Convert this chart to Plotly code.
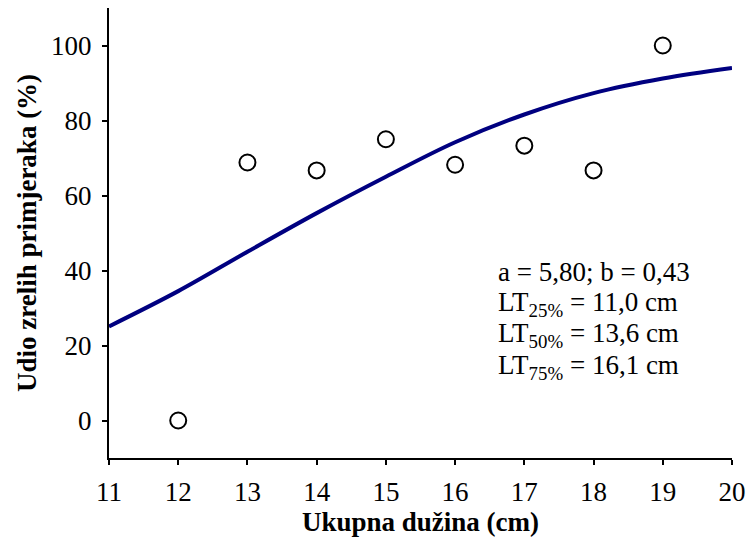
import plotly.graph_objects as go

# Observed data
length_cm = [12, 13, 14, 15, 16, 17, 18, 19]
mature_pct = [0, 68.8, 66.7, 75.0, 68.2, 73.3, 66.7, 100]

# Fitted logistic curve
curve_x = [11, 12, 13, 14, 15, 16, 17, 18, 19, 20]
curve_y = [25.1, 34.5, 45.0, 55.3, 65.0, 74.2, 81.6, 87.3, 91.2, 94.0]

x_ticks = [11, 12, 13, 14, 15, 16, 17, 18, 19, 20]
y_ticks = [0, 20, 40, 60, 80, 100]

annotation_lines = [
    "a = 5,80; b = 0,43",
    "LT<sub>25%</sub> = 11,0 cm",
    "LT<sub>50%</sub> = 13,6 cm",
    "LT<sub>75%</sub> = 16,1 cm",
]

FONT = "Liberation Serif, Times New Roman, serif"
FS = 27

fig = go.Figure()
fig.add_trace(go.Scatter(
    x=curve_x, y=curve_y, mode="lines",
    line=dict(color="#000080", width=4, shape="spline", smoothing=1.0),
    showlegend=False, hoverinfo="skip",
))
fig.add_trace(go.Scatter(
    x=length_cm, y=mature_pct, mode="markers",
    marker=dict(symbol="circle-open", size=16, color="black", line=dict(width=2, color="black")),
    showlegend=False,
))

for i, t in enumerate(annotation_lines):
    fig.add_annotation(
        x=0.621, xref="paper", y=0.413 - i * 0.07, yref="paper",
        text=t, showarrow=False, xanchor="left", yanchor="middle",
        font=dict(family=FONT, size=FS, color="black"), align="left",
    )

fig.update_layout(
    width=748, height=550,
    margin=dict(l=109, r=16, t=8, b=92, pad=0, autoexpand=False),
    paper_bgcolor="white", plot_bgcolor="white",
    font=dict(family=FONT, size=FS, color="black"),
    xaxis=dict(
        range=[11, 20], tickvals=x_ticks, ticktext=[str(v) for v in x_ticks],
        automargin=False,
        showgrid=False, zeroline=False, showline=True, linecolor="black", linewidth=2,
        ticks="outside", ticklen=5, tickwidth=1.5, tickcolor="black",
        tickfont=dict(family=FONT, size=FS, color="black"),
        ticklabelstandoff=4,
        title=dict(text="<b>Ukupna dužina (cm)</b>", font=dict(family=FONT, size=FS), standoff=6),
    ),
    yaxis=dict(
        range=[-10, 110], tickvals=y_ticks, ticktext=[str(v) for v in y_ticks],
        automargin=False,
        showgrid=False, zeroline=False, showline=True, linecolor="black", linewidth=2,
        ticks="outside", ticklen=5, tickwidth=1.5, tickcolor="black",
        tickfont=dict(family=FONT, size=FS, color="black"),
        ticklabelstandoff=5,
        title=dict(text="<b>Udio zrelih primjeraka (%)</b>", font=dict(family=FONT, size=FS), standoff=7),
    ),
)

# remove the browser's default 8px body margin so the figure fills the 748x550 window
fig.write_html(
    "out.html",
    config={"displayModeBar": False},
    post_script="document.body.style.margin='0';document.body.style.overflow='hidden';",
)
